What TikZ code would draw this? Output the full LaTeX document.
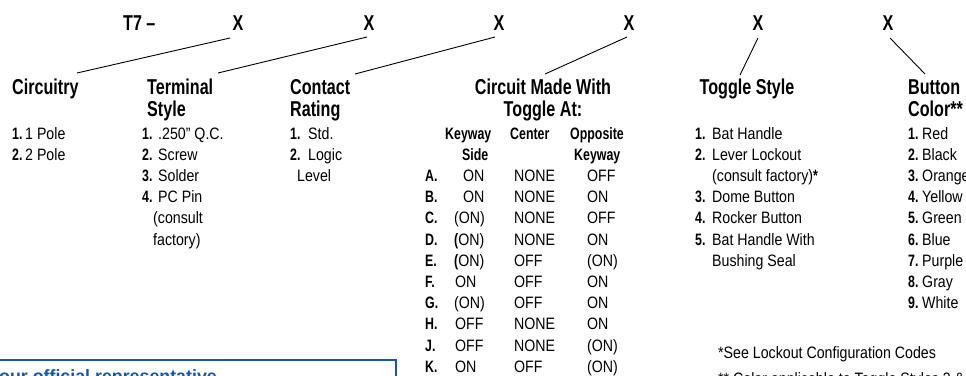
\documentclass[tikz,border=0pt]{standalone}
\usepackage{fontspec}
\setmainfont{Liberation Sans}[FakeStretch=0.86,BoldFeatures={FakeStretch=0.75}]
\newfontfamily\widesans{Liberation Sans}
\usetikzlibrary{calc}
\definecolor{repblue}{RGB}{22,88,168}
\newcommand\itm[3]{\makebox[#1pt][l]{\bfseries #2}#3}
\begin{document}
\begin{tikzpicture}[x=1pt,y=-1pt,
  txt/.style={anchor=base west,inner sep=0pt,font=\fontsize{16.5}{20}\selectfont},
  sub/.style={anchor=base west,inner sep=0pt,font=\fontsize{16.5}{20}\selectfont\bfseries},
  hd/.style={anchor=base west,inner sep=0pt,font=\fontsize{21.5}{22}\selectfont\bfseries},
  lead/.style={line width=0.9pt}]
\useasboundingbox (0,0) rectangle (966,375);
\clip (0,0) rectangle (966,375);

% top code
\node[hd] (t7) at (123,30) {T7 --};
\node[hd,anchor=base] (x1) at (238,30) {X};
\node[hd,anchor=base] (x2) at (369,30) {X};
\node[hd,anchor=base] (x3) at (499,30) {X};
\node[hd,anchor=base] (x4) at (629,30) {X};
\node[hd,anchor=base] (x5) at (758,30) {X};
\node[hd,anchor=base] (x6) at (888,30) {X};

% headings
\node[hd] (circ) at (12,94.5) {Circuitry};
\node[hd] (term) at (147,94.5) {Terminal};
\node[hd] (term2) at (147,116) {Style};
\node[hd] (cont) at (290,94.5) {Contact};
\node[hd] (cont2) at (290,116) {Rating};
\node[hd,anchor=base] (cmw) at (543,94.5) {Circuit Made With};
\node[hd,anchor=base] (cmw2) at (543,116) {Toggle At:};
\node[hd,anchor=base] (tog) at (747,94.5) {Toggle Style};
\node[hd] (btn) at (908,94.5) {Button};
\node[hd] (btn2) at (908,116) {Color**};

% leader lines
\draw[lead] ($(x1.base)+(-8,8)$) -- ($(circ.base west)+(65,-21.5)$);
\draw[lead] ($(x2.base)+(-2,7)$) -- ($(term.base west)+(71,-21.5)$);
\draw[lead] ($(x3.base)+(-4,7)$) -- ($(cont.base west)+(65,-20.5)$);
\draw[lead] ($(x4.base)+(-2,7)$) -- ($(cmw.base)+(2,-20.5)$);
\draw[lead] ($(x5.base)+(0,8)$) -- ($(tog.base)+(-7,-19.5)$);
\draw[lead] ($(x6.base)+(2,8)$) -- ($(btn.base west)+(17,-20.5)$);

% Circuitry
\node[txt] (ci1) at (12,139) {\itm{13}{1.}{1 Pole}};
\node[txt] (ci2) at (12,160.2) {\itm{13}{2.}{2 Pole}};

% Terminal style
\node[txt] (te1) at (142,139) {\itm{16}{1.}{.250\symbol{34} Q.C.}};
\node[txt] (te2) at (142,160.2) {\itm{16}{2.}{Screw}};
\node[txt] (te3) at (142,181.4) {\itm{16}{3.}{Solder}};
\node[txt] (te4) at (142,202.6) {\itm{16}{4.}{PC Pin}};
\node[txt] (te5) at (153,223.8) {(consult};
\node[txt] (te6) at (153,245) {factory)};

% Contact rating
\node[txt] (co1) at (290,139) {\itm{18}{1.}{Std.}};
\node[txt] (co2) at (290,160.2) {\itm{18}{2.}{Logic}};
\node[txt] (co3) at (297,181.4) {Level};

% table header
\node[sub] (th1) at (445,139) {Keyway};
\node[sub] (th2) at (510,139) {Center};
\node[sub] (th3) at (570,139) {Opposite};
\node[sub] (th4) at (462,160.2) {Side};
\node[sub] (th5) at (574,160.2) {Keyway};

% table rows
\foreach \l/\a/\b/\c/\xa [count=\k] in {
  A./ON/NONE/OFF/463,
  B./ON/NONE/ON/463,
  C./(ON)/NONE/OFF/454,
  D./{\textbf{(}ON)}/NONE/ON/454,
  E./{\textbf{(}ON)}/OFF/(ON)/454,
  F./ON/OFF/ON/455,
  G./(ON)/OFF/ON/454,
  H./OFF/NONE/ON/455,
  J./OFF/NONE/(ON)/455,
  K./ON/OFF/(ON)/455}{
  \pgfmathsetmacro\yy{139+21.2*(\k+1)}
  \node[sub] (rl\k) at (425,\yy) {\l};
  \node[txt] (ra\k) at (\xa,\yy) {\a};
  \node[txt] (rb\k) at (514,\yy) {\b};
  \node[txt] (rc\k) at (587,\yy) {\c};
}

% Toggle style
\node[txt] (to1) at (695,139) {\itm{17}{1.}{Bat Handle}};
\node[txt] (to2) at (695,160.2) {\itm{17}{2.}{Lever Lockout}};
\node[txt] (to3) at (712,181.4) {(consult factory)\textbf{*}};
\node[txt] (to4) at (695,202.6) {\itm{17}{3.}{Dome Button}};
\node[txt] (to5) at (695,223.8) {\itm{17}{4.}{Rocker Button}};
\node[txt] (to6) at (695,245) {\itm{17}{5.}{Bat Handle With}};
\node[txt] (to7) at (712,266.2) {Bushing Seal};

% Button color
\foreach \n/\c [count=\k from 0] in {1./Red,2./Black,3./Orange,4./Yellow,5./Green,6./Blue,7./Purple,8./Gray,9./White}{
  \pgfmathsetmacro\yy{139+21.2*\k}
  \node[txt] (bc\k) at (908,\yy) {\itm{14}{\n}{\c}};
}

% footnotes
\node[txt] (fn1) at (718,358) {*See Lockout Configuration Codes};
\node[txt] (fn2) at (718,384) {** Color applicable to Toggle Styles 3 \& 4};

% blue box
\draw[repblue,line width=1.5pt] (-2,360) -- (396,360) -- (396,380);
\node[anchor=base west,inner sep=0pt,text=repblue,font=\widesans\fontsize{17.8}{20}\selectfont\bfseries] (rep) at (-1,382) {our official representative};
\end{tikzpicture}
\end{document}
